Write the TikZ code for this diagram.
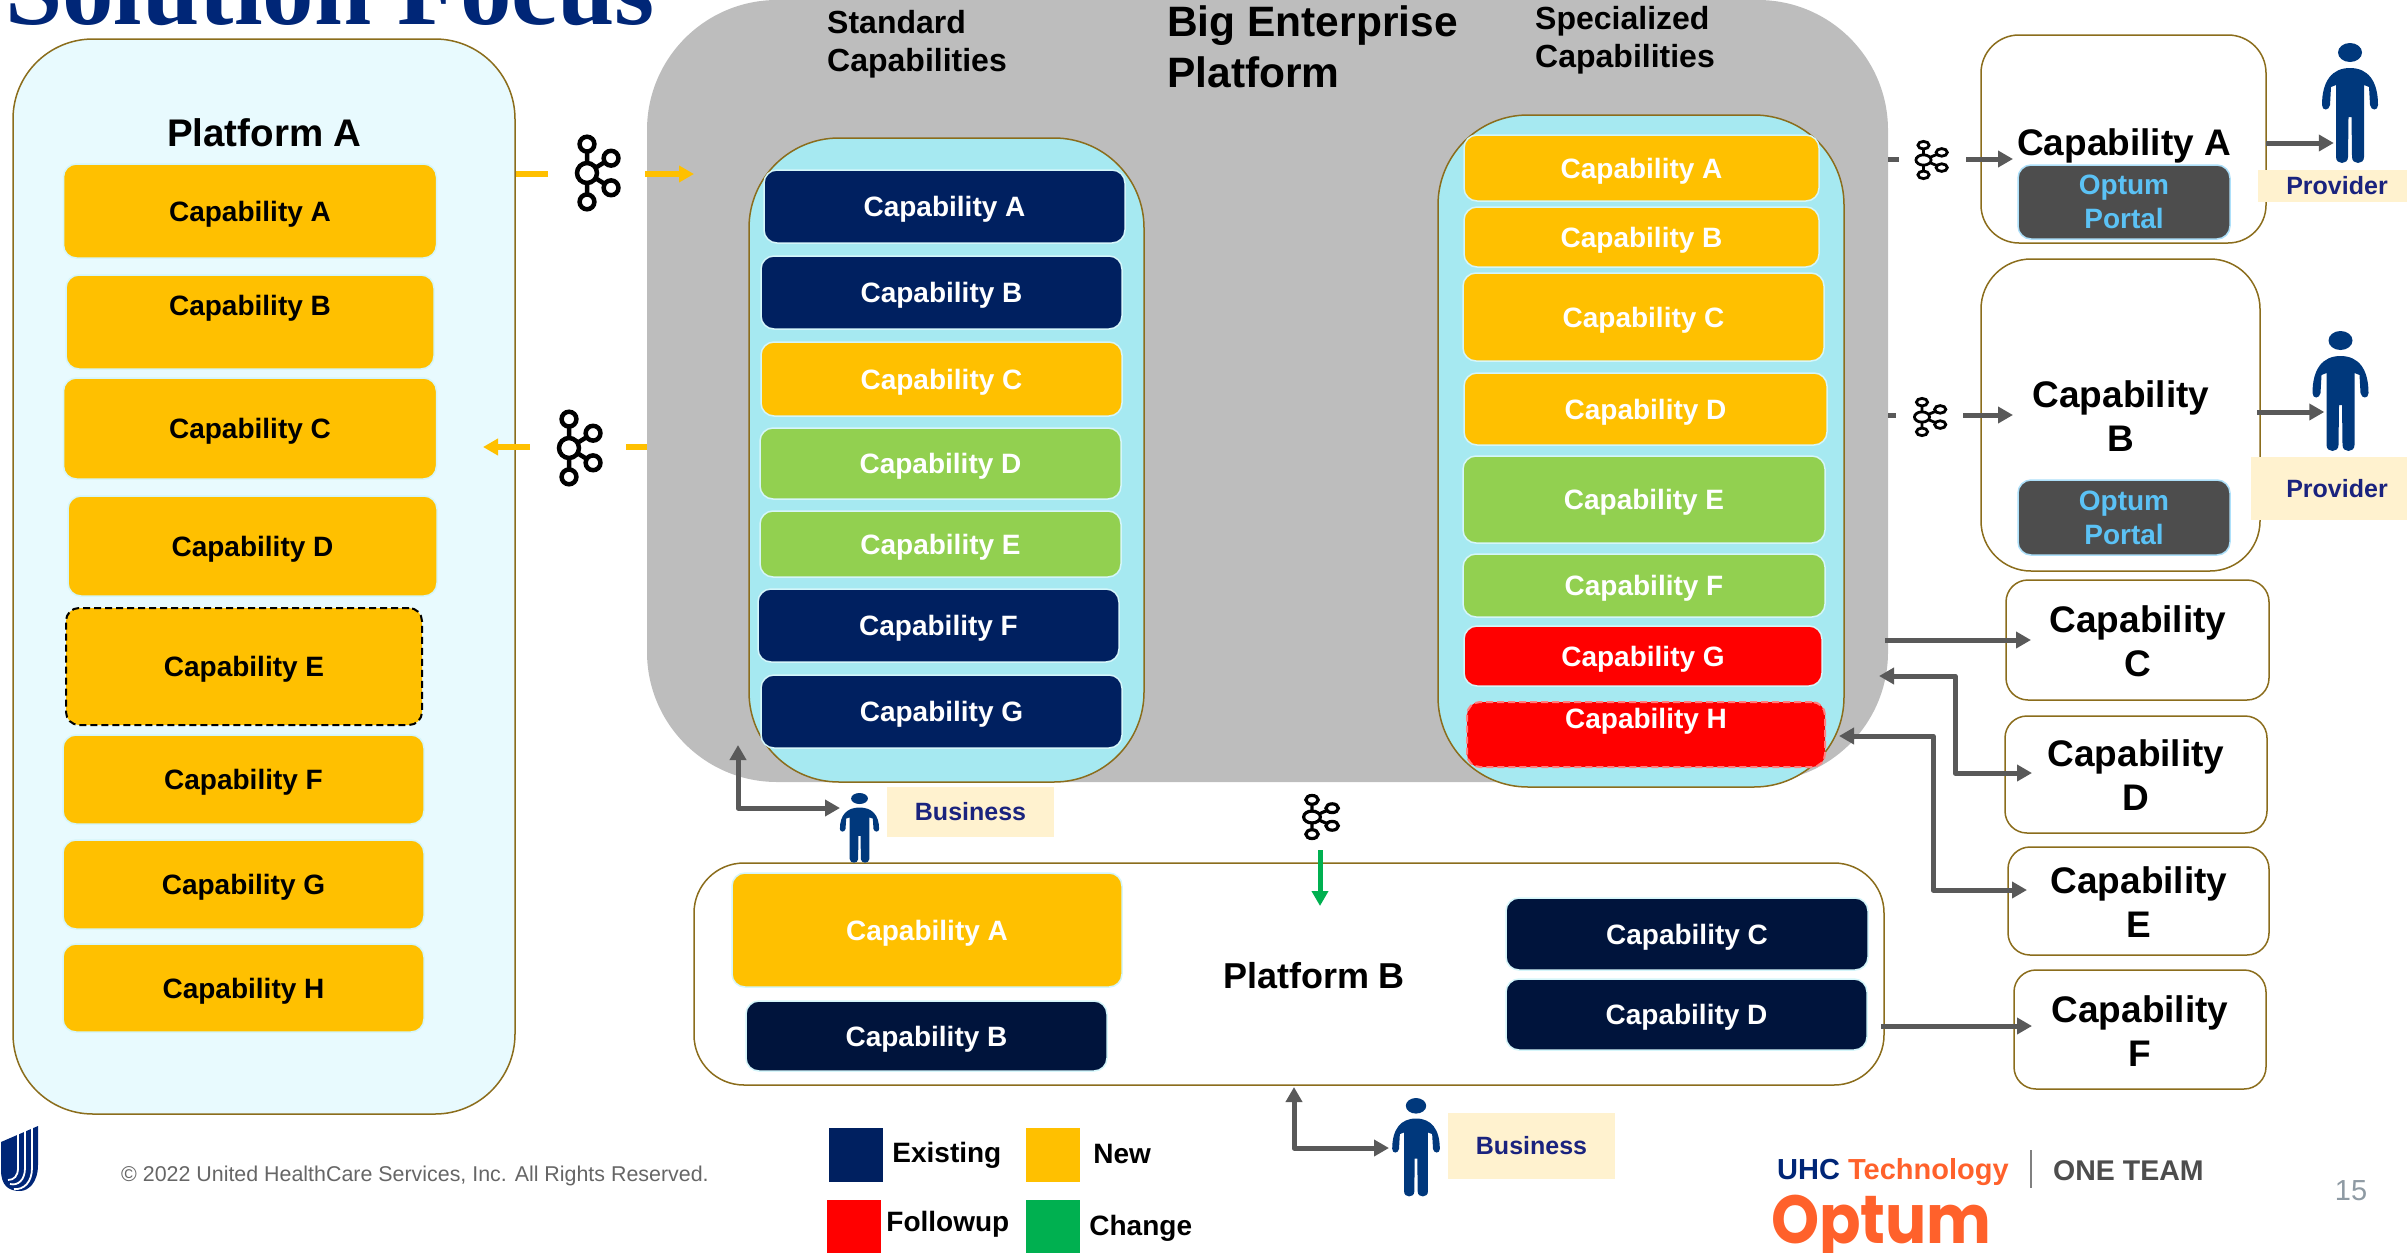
\documentclass[tikz,border=0pt]{standalone}
\usepackage{fontspec}
\setmainfont{Liberation Sans}
\newfontfamily\titlefont{Liberation Serif}
\newfontfamily\optumfont[FakeStretch=0.9]{Poppins}
\usetikzlibrary{positioning,arrows.meta}

\definecolor{titleblue}{HTML}{002677}
\definecolor{navy}{HTML}{002060}
\definecolor{darknavy}{HTML}{00143C}
\definecolor{amber}{HTML}{FFC000}
\definecolor{leaf}{HTML}{92D050}
\definecolor{signal}{HTML}{00B050}
\definecolor{olive}{HTML}{8B6D1C}
\definecolor{paleblue}{HTML}{E8FAFE}
\definecolor{capsule}{HTML}{A6E9F1}
\definecolor{edgeblue}{HTML}{D5F6FA}
\definecolor{bigplate}{HTML}{BDBDBD}
\definecolor{flowgray}{HTML}{595959}
\definecolor{portal}{HTML}{4D4D4D}
\definecolor{portaltext}{HTML}{5BC2F5}
\definecolor{cream}{HTML}{FFF2CF}
\definecolor{roletext}{HTML}{1A237E}
\definecolor{personblue}{HTML}{00387C}
\definecolor{optum}{HTML}{FF612B}
\definecolor{pagegray}{HTML}{8E9AA3}

\tikzset{
	capbox/.style={draw=edgeblue,line width=1.5pt,rounded corners=13pt,inner sep=0pt,align=center,text height=26pt,font=\fontsize{28}{34}\selectfont\bfseries},
	cappale/.style={capbox,fill=amber,text=black},
	capamber/.style={capbox,fill=amber,text=white},
	capleaf/.style={capbox,fill=leaf,text=white},
	capnavy/.style={capbox,fill=navy,text=white},
	capdark/.style={capbox,fill=darknavy,text=white},
	capred/.style={capbox,fill=red,text=white},
	outline/.style={draw=olive,line width=1.5pt,inner sep=0pt},
	sidebox/.style={outline,fill=white,rounded corners=22pt},
	sidetext/.style={inner sep=0pt,align=center,font=\fontsize{37}{44}\selectfont\bfseries},
	portalbox/.style={capbox,text height=,fill=portal,text=portaltext,draw=portaltext!50!white,font=\fontsize{28}{34}\selectfont\bfseries},
	rolebox/.style={fill=cream,text=roletext,inner sep=0pt,font=\fontsize{25}{30}\selectfont\bfseries},
	flow/.style={draw=flowgray,line width=5pt,line join=round},
	hubnode/.style={inner sep=0pt,minimum height=60pt},
	headtext/.style={inner sep=0pt,anchor=north west,align=left},
	swatch/.style={inner sep=0pt,minimum width=54pt,minimum height=54pt},
	legendtext/.style={inner sep=0pt,font=\fontsize{28}{34}\selectfont\bfseries},
	longdash/.style={dash pattern=on 7pt off 4pt},
	person/.pic={
		\fill[personblue] (0,9.5) ellipse [x radius=12, y radius=9.5];
		\fill[personblue] (0,25) .. controls (-18,25) and (-28,38) .. (-28,62)
			.. controls (-28,68) and (-21,68) .. (-20,62) -- (-19,44) -- (-14,42)
			-- (-14,114) .. controls (-14,122) and (-2,122) .. (-2,114) -- (-1.5,74) -- (1.5,74) -- (2,114)
			.. controls (2,122) and (14,122) .. (14,114) -- (14,42) -- (19,44) -- (20,62)
			.. controls (21,68) and (28,68) .. (28,62) .. controls (28,38) and (18,25) .. (0,25) -- cycle;
	},
	kafka/.pic={
		\draw (0,-.78) -- (0,.78) (0,0) -- (.65,-.4) (0,0) -- (.65,.4);
		\draw[fill=white] (0,0) circle [radius=.27];
		\draw[fill=white] (0,-.78) circle [radius=.2];
		\draw[fill=white] (0,.78) circle [radius=.2];
		\draw[fill=white] (.65,-.4) circle [radius=.2];
		\draw[fill=white] (.65,.4) circle [radius=.2];
	},
}

\begin{document}
\begin{tikzpicture}[x=1pt,y=-1pt,>={Triangle[length=15pt,width=16pt]}]
	\useasboundingbox (0,0) rectangle (2407,1253);
	\node[anchor=base west,inner sep=0pt,text=titleblue,font=\titlefont\fontsize{103}{110}\selectfont\bfseries](title) at (5,24){Solution Focus};

	\node[outline,fill=paleblue,rounded corners=80pt,minimum width=502pt,minimum height=1075pt](pa) at (264,576.5){};
	\node[inner sep=0pt,font=\fontsize{38.5}{46}\selectfont\bfseries](pa_title) at (264.5,133){Platform A};
	\node[cappale,minimum width=373pt,minimum height=94pt](pa_a) at (250,211){Capability A};
	\node[cappale,minimum width=368pt,minimum height=94pt,text depth=40pt](pa_b) at (250,322){Capability B};
	\node[cappale,minimum width=373pt,minimum height=101pt](pa_c) at (250,428.5){Capability C};
	\node[cappale,minimum width=369pt,minimum height=100pt](pa_d) at (252.5,546){Capability D};
	\node[cappale,draw=black,dashed,longdash,line width=2pt,minimum width=356pt,minimum height=117pt](pa_e) at (244,666.5){Capability E};
	\node[cappale,minimum width=361pt,minimum height=89pt](pa_f) at (243.5,779.5){Capability F};
	\node[cappale,minimum width=361pt,minimum height=89pt](pa_g) at (243.5,884.5){Capability G};
	\node[cappale,minimum width=361pt,minimum height=88pt](pa_h) at (243.5,988){Capability H};

	\node[fill=bigplate,rounded corners=130pt,inner sep=0pt,minimum width=1241pt,minimum height=782pt](big) at (1267.5,391){};
	\node[headtext,font=\fontsize{42.5}{51}\selectfont\bfseries](big_title) at (1167,6){Big Enterprise\\Platform};
	\node[headtext,font=\fontsize{32}{38}\selectfont\bfseries](st_title) at (827,10){Standard\\Capabilities};
	\node[headtext,font=\fontsize{32}{38}\selectfont\bfseries](sp_title) at (1535,6){Specialized\\Capabilities};

	\node[outline,fill=capsule,rounded corners=90pt,minimum width=395pt,minimum height=644pt](st) at (946.5,460){};
	\node[capnavy,minimum width=361pt,minimum height=73pt](st_a) at (944.5,206.5){Capability A};
	\node[capnavy,minimum width=361pt,minimum height=73pt](st_b) at (941.5,292.5){Capability B};
	\node[capamber,minimum width=361pt,minimum height=74pt](st_c) at (941.5,379){Capability C};
	\node[capleaf,minimum width=361pt,minimum height=71pt](st_d) at (940.5,463.5){Capability D};
	\node[capleaf,minimum width=361pt,minimum height=66pt](st_e) at (940.5,544){Capability E};
	\node[capnavy,minimum width=361pt,minimum height=73pt](st_f) at (938.5,625.5){Capability F};
	\node[capnavy,minimum width=361pt,minimum height=73pt](st_g) at (941.5,711.5){Capability G};

	\node[outline,fill=capsule,rounded corners=90pt,minimum width=406pt,minimum height=672pt](sp) at (1641,451){};
	\node[capamber,minimum width=355pt,minimum height=66pt](sp_a) at (1641.5,168){Capability A};
	\node[capamber,minimum width=355pt,minimum height=60pt](sp_b) at (1641.5,237){Capability B};
	\node[capamber,minimum width=361pt,minimum height=88pt](sp_c) at (1643.5,317){Capability C};
	\node[capamber,minimum width=363pt,minimum height=72pt](sp_d) at (1645.5,409){Capability D};
	\node[capleaf,minimum width=362pt,minimum height=87pt](sp_e) at (1644,499.5){Capability E};
	\node[capleaf,minimum width=362pt,minimum height=63pt](sp_f) at (1644,585.5){Capability F};
	\node[capred,minimum width=358pt,minimum height=60pt](sp_g) at (1643,656){Capability G};
	\node[capred,draw=red!50!white,dashed,longdash,line width=2pt,minimum width=358pt,minimum height=63pt,text depth=39pt](sp_h) at (1646,734.5){Capability H};

	\node[outline,fill=white,rounded corners=50pt,minimum width=1190pt,minimum height=222pt](pb) at (1289,974){};
	\node[capamber,minimum width=390pt,minimum height=114pt](pb_a) at (927,930){Capability A};
	\node[capdark,minimum width=361pt,minimum height=70pt](pb_b) at (926.5,1036){Capability B};
	\node[capdark,minimum width=362pt,minimum height=72pt](pb_c) at (1687,934){Capability C};
	\node[capdark,minimum width=361pt,minimum height=71pt](pb_d) at (1686.5,1014.5){Capability D};
	\node[inner sep=0pt,font=\fontsize{36}{44}\selectfont\bfseries](pb_title) at (1314,976){Platform B};

	\node[sidebox,rounded corners=38pt,minimum width=285pt,minimum height=208pt](cap_a) at (2123.5,139){};
	\node[sidetext](cap_a_text) at (2124,146){Capability A};
	\node[portalbox,minimum width=212pt,minimum height=74pt](portal_a) at (2124,202){Optum\\Portal};
	\node[sidebox,rounded corners=50pt,minimum width=279pt,minimum height=312pt](cap_b) at (2120.5,415){};
	\node[sidetext](cap_b_text) at (2121,416.5){Capability\\B};
	\node[portalbox,minimum width=212pt,minimum height=75pt](portal_b) at (2124,517.5){Optum\\Portal};
	\node[sidebox,minimum width=263pt,minimum height=120pt](cap_c) at (2137.5,640){};
	\node[sidetext](cap_c_text) at (2138,641){Capability\\C};
	\node[sidebox,minimum width=262pt,minimum height=117pt](cap_d) at (2136,774.5){};
	\node[sidetext](cap_d_text) at (2136,775.5){Capability\\D};
	\node[sidebox,minimum width=261pt,minimum height=108pt](cap_e) at (2138.5,901){};
	\node[sidetext](cap_e_text) at (2139,902){Capability\\E};
	\node[sidebox,minimum width=252pt,minimum height=119pt](cap_f) at (2140,1029.5){};
	\node[sidetext](cap_f_text) at (2140,1031){Capability\\F};

	\node[rolebox,minimum width=149pt,minimum height=32pt](role_a) at (2332.5,186){\hspace*{9pt}Provider};
	\node[rolebox,minimum width=156pt,minimum height=63pt](role_b) at (2329,488.5){\hspace*{16pt}Provider};
	\node[rolebox,minimum width=167pt,minimum height=50pt](role_c) at (970.5,812){Business};
	\node[rolebox,minimum width=167pt,minimum height=66pt](role_d) at (1531.5,1146){Business};

	\node[inner sep=0pt,minimum width=32pt,minimum height=121pt](per_a) at (2350,103.5){};
	\pic at (2350,43) {person};
	\node[inner sep=0pt,minimum width=32pt,minimum height=121pt](per_b) at (2340.5,391){};
	\pic at (2340.5,331) {person};
	\node[inner sep=0pt,minimum width=39pt,minimum height=70pt](per_c) at (859.5,828){};
	\pic[xscale=.7,yscale=.58] at (859.5,793) {person};
	\node[inner sep=0pt,minimum width=48pt,minimum height=99pt](per_d) at (1416,1147.5){};
	\pic[xscale=.85,yscale=.82] at (1416,1098) {person};

	\node[hubnode,minimum width=97pt](hub_in) at (596.5,174){};
	\pic[scale=37,line width=4.5pt] at (587,173) {kafka};
	\node[hubnode,minimum width=96pt](hub_out) at (578,447){};
	\pic[scale=37,line width=4.5pt] at (569,448) {kafka};
	\node[hubnode,minimum width=67pt](hub_a) at (1932.5,159){};
	\pic[xscale=28,yscale=19,line width=2.8pt] at (1923.5,160) {kafka};
	\node[hubnode,minimum width=67pt](hub_b) at (1929.5,415){};
	\pic[xscale=28,yscale=19,line width=2.8pt] at (1922,417) {kafka};
	\node[hubnode,minimum width=40pt](hub_pb) at (1320,820){};
	\pic[xscale=31,yscale=22,line width=3.2pt] at (1312,817) {kafka};

	\coordinate (big_in) at (694,174);
	\coordinate (pa_in) at (483,447);
	\coordinate (cap_a_in) at (2013,159);
	\coordinate (cap_b_in) at (2013,415);
	\coordinate (pb_in) at (1320,906);
	\coordinate (cap_a_out) at (2266,143);
	\coordinate (cap_b_out) at (2257,412);
	\coordinate (big_c) at (1885,640);
	\coordinate (cap_c_in) at (2031,640);
	\coordinate (big_d) at (1879,676);
	\coordinate (cap_d_in) at (2032,773);
	\coordinate (big_e) at (1839,736);
	\coordinate (cap_e_in) at (2027,890);
	\coordinate (pb_out) at (1881,1026);
	\coordinate (cap_f_in) at (2032,1026);
	\coordinate (big_biz) at (738,745);
	\coordinate (per_c_in) at (840,808);
	\coordinate (pb_biz) at (1294,1087);
	\coordinate (per_d_in) at (1389,1148);

	\draw[amber,line width=5.5pt] (pa.east |- hub_in) -- (hub_in.west);
	\draw[amber,line width=5.5pt,->] (hub_in.east) -- (big_in);
	\draw[amber,line width=5.5pt] (big.west |- hub_out) -- (hub_out.east);
	\draw[amber,line width=5.5pt,->] (hub_out.west) -- (pa_in);
	\draw[flow] (big.east |- hub_a) -- (hub_a.west);
	\draw[flow,->] (hub_a.east) -- (cap_a_in);
	\draw[flow] (big.east |- hub_b) -- (hub_b.west);
	\draw[flow,->] (hub_b.east) -- (cap_b_in);
	\draw[signal,line width=5pt,->] (hub_pb.south) -- (pb_in);
	\draw[flow,->] (cap_a_out) -- (cap_a_out -| per_a.west);
	\draw[flow,->] (cap_b_out) -- (cap_b_out -| per_b.west);
	\draw[flow,->] (big_c) -- (cap_c_in);
	\draw[flow,<->] (big_d) -- ++(76,0) |- (cap_d_in);
	\draw[flow,<->] (big_e) -- ++(94,0) |- (cap_e_in);
	\draw[flow,->] (pb_out) -- (cap_f_in);
	\draw[flow,<->] (big_biz) |- (per_c_in);
	\draw[flow,<->] (pb_biz) |- (per_d_in);

	\node[swatch,fill=navy](leg_e) at (856,1155){};
	\node[legendtext,right=9pt of leg_e](leg_e_text){Existing};
	\node[swatch,fill=amber](leg_n) at (1053,1155){};
	\node[legendtext,right=13pt of leg_n,yshift=1.5pt](leg_n_text){New};
	\node[swatch,fill=red](leg_f) at (854,1226.5){};
	\node[legendtext,right=5pt of leg_f,yshift=2pt](leg_f_text){Followup};
	\node[swatch,fill=signal](leg_c) at (1053,1226.5){};
	\node[legendtext,right=9pt of leg_c,yshift=-2pt](leg_c_text){Change};

	\fill[titleblue] (38,1126) -- (38,1165) .. controls (38,1183) and (28,1191) .. (20,1191) .. controls (8,1191) and (1,1185) .. (1,1170) -- (1,1142) -- cycle;
	\draw[white,line width=1.8pt] (18,1120) -- (18,1168) .. controls (18,1176) and (14,1180) .. (8,1180);
	\draw[white,line width=1.8pt] (25,1120) -- (25,1168) .. controls (25,1180) and (18,1186) .. (10,1184);
	\draw[white,line width=1.8pt] (32,1120) -- (32,1168) .. controls (32,1182) and (24,1190) .. (14,1189);
	\node[anchor=west,inner sep=0pt,text=black!60,font=\fontsize{21.4}{26}\selectfont](copyright) at (121,1176){© 2022 United HealthCare Services, Inc. All Rights Reserved.};

	\node[anchor=west,inner sep=0pt,font=\fontsize{29}{35}\selectfont\bfseries](uhc) at (1777,1172){\textcolor{titleblue}{UHC} \textcolor{optum}{Technology}};
	\draw[gray,line width=1.5pt] (2031,1150) -- (2031,1188);
	\node[anchor=west,inner sep=0pt,text=portal,font=\fontsize{28.5}{35}\selectfont\bfseries](team) at (2053,1171){ONE TEAM};
	\node[anchor=base west,inner sep=0pt,text=optum,font=\optumfont\fontsize{68}{80}\selectfont\bfseries](optum_logo) at (1771,1243){Optum};
	\node[inner sep=0pt,text=pagegray,font=\fontsize{29}{35}\selectfont](pageno) at (2351,1191){15};
\end{tikzpicture}
\end{document}
